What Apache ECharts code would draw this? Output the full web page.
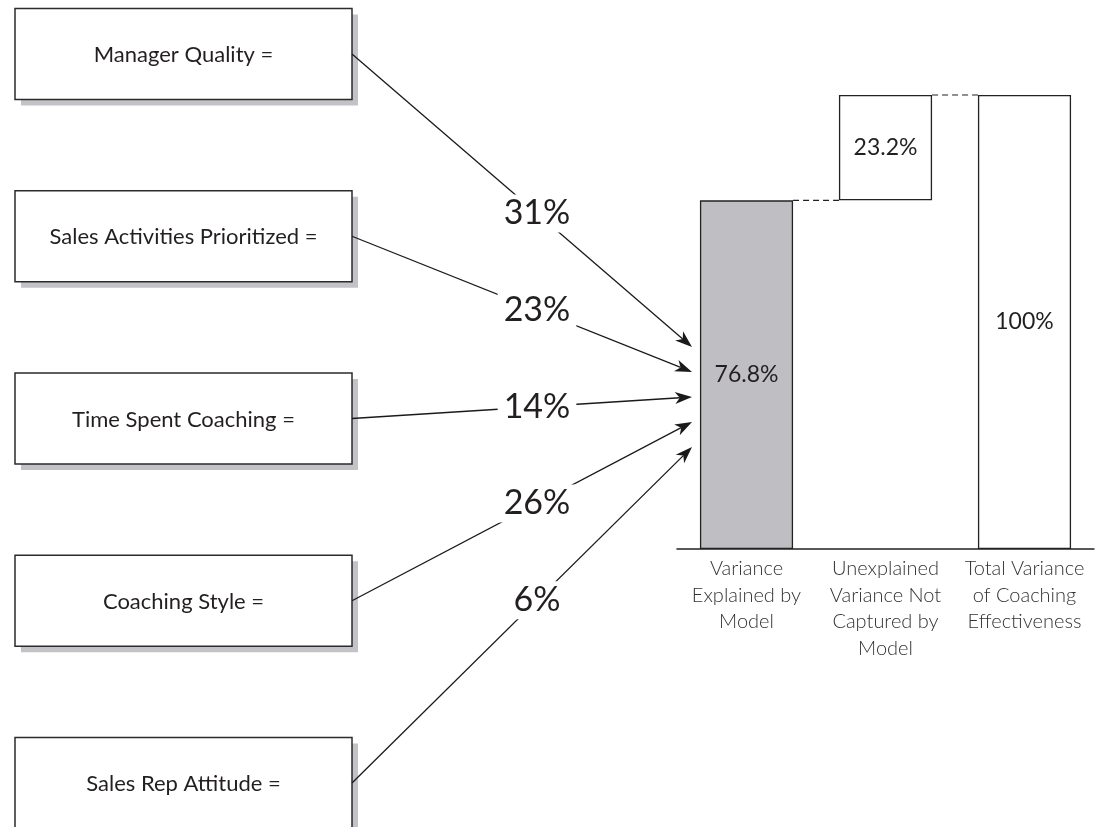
<!DOCTYPE html>
<html>
<head>
<meta charset="utf-8">
<script src="https://cdn.jsdelivr.net/npm/echarts@6/dist/echarts.min.js"></script>
<style>
  html, body { margin: 0; padding: 0; background: #fff; }
  #chart { width: 1104px; height: 827px; }
</style>
</head>
<body>
<div id="chart"></div>
<script>
// Drivers of coaching effectiveness and their relative weights (%)
const factors = [
  'Manager Quality =',
  'Sales Activities Prioritized =',
  'Time Spent Coaching =',
  'Coaching Style =',
  'Sales Rep Attitude ='
];
const factorWeights = [31, 23, 14, 26, 6];

// Variance decomposition (waterfall)
const varianceCategories = [
  'Variance\nExplained by\nModel',
  'Unexplained\nVariance Not\nCaptured by\nModel',
  'Total Variance\nof Coaching\nEffectiveness'
];
const varianceValues = [76.8, 23.2, 100];
const varianceBase = [0, 76.8, 0];

const FONT = 'Lato, "Open Sans", sans-serif';
const INK = '#231f20';
const PLOT_LEFT = 677;
const BAR_RATIO = 0.67;

const chart = echarts.init(document.getElementById('chart'), null, { renderer: 'canvas' });

// Box + arrow for each driver
function renderFactor(params, api) {
  const i = api.value(1);
  const weight = api.value(2);
  const p = api.coord([0, i]);
  const boxW = 337, boxH = 91;
  const x0 = p[0], yc = p[1];
  const start = [x0 + boxW, yc];
  const tip = [PLOT_LEFT + 15, 397 + (i - 2) * 25];
  const dx = tip[0] - start[0], dy = tip[1] - start[1];
  const len = Math.sqrt(dx * dx + dy * dy);
  const d = [dx / len, dy / len];
  const n = [-d[1], d[0]];
  const L = 17, W = 12;
  const back = [tip[0] - d[0] * L, tip[1] - d[1] * L];
  const notch = [tip[0] - d[0] * L * 0.72, tip[1] - d[1] * L * 0.72];
  const t = (537 - start[0]) / dx;
  const lab = [start[0] + dx * t, start[1] + dy * t];
  return {
    type: 'group',
    children: [
      { type: 'rect', shape: { x: x0 + 6, y: yc - boxH / 2 + 6, width: boxW, height: boxH },
        style: { fill: '#c3c3c7' } },
      { type: 'rect', shape: { x: x0, y: yc - boxH / 2, width: boxW, height: boxH },
        style: { fill: '#fff', stroke: '#2b2b2b', lineWidth: 1.5 } },
      { type: 'text', style: { text: factors[i], x: x0 + boxW / 2, y: yc + 1,
        textAlign: 'center', textVerticalAlign: 'middle', font: '22px ' + FONT, fill: INK } },
      { type: 'line', shape: { x1: start[0], y1: start[1], x2: notch[0], y2: notch[1] },
        style: { stroke: '#1a1a1a', lineWidth: 1.3 } },
      { type: 'polygon', shape: { points: [
          tip,
          [back[0] + n[0] * W / 2, back[1] + n[1] * W / 2],
          notch,
          [back[0] - n[0] * W / 2, back[1] - n[1] * W / 2]
        ] }, style: { fill: '#1a1a1a' } },
      { type: 'text', style: { text: weight + '%', x: lab[0], y: lab[1],
        textAlign: 'center', textVerticalAlign: 'middle', font: '34px ' + FONT, fill: INK,
        backgroundColor: '#fff', padding: [2, 6] } }
    ]
  };
}

// Dashed connectors between the waterfall steps
function renderConnector(params, api) {
  const i = api.value(0);
  const level = api.value(1);
  const p = api.coord([i, level]);
  const q = api.coord([i + 1, level]);
  const half = api.size([1, 0])[0] * BAR_RATIO / 2;
  return {
    type: 'line',
    shape: { x1: p[0] + half, y1: p[1], x2: q[0] - half, y2: q[1] },
    style: { stroke: '#222', lineWidth: 1.2, lineDash: [6, 4] }
  };
}

const connectorData = [0, 1].map(i => [i, varianceBase[i] + varianceValues[i]]);

chart.setOption({
  backgroundColor: '#fff',
  animation: false,
  grid: [
    { left: 15, top: 54, bottom: 44, width: 340 },
    { left: PLOT_LEFT, right: 10, top: 95, bottom: 278 }
  ],
  xAxis: [
    { gridIndex: 0, type: 'value', min: 0, max: 1, show: false },
    { gridIndex: 1, type: 'category', data: varianceCategories,
      axisLine: { lineStyle: { color: '#222', width: 1.5 } },
      axisTick: { show: false },
      axisLabel: { interval: 0, fontSize: 20, lineHeight: 26.7, color: '#333',
        fontFamily: FONT, fontWeight: 300, margin: 6, align: 'center' } }
  ],
  yAxis: [
    { gridIndex: 0, type: 'category', data: factors, inverse: true, boundaryGap: false, show: false },
    { gridIndex: 1, type: 'value', min: 0, max: 100, show: false, splitLine: { show: false } }
  ],
  series: [
    {
      type: 'custom', xAxisIndex: 0, yAxisIndex: 0, clip: false, silent: true,
      renderItem: renderFactor,
      encode: { x: 0, y: 1 },
      data: factorWeights.map((w, i) => [0, i, w])
    },
    {
      type: 'bar', xAxisIndex: 1, yAxisIndex: 1, stack: 'variance', silent: true,
      barWidth: (BAR_RATIO * 100) + '%',
      itemStyle: { color: 'transparent' },
      data: varianceBase
    },
    {
      type: 'bar', xAxisIndex: 1, yAxisIndex: 1, stack: 'variance', silent: true,
      barWidth: (BAR_RATIO * 100) + '%',
      itemStyle: { borderColor: '#222', borderWidth: 1.3 },
      label: { show: true, position: 'inside', formatter: p => p.value + '%',
        fontSize: 23, fontFamily: FONT, color: INK },
      data: varianceValues.map((v, i) => ({ value: v, itemStyle: { color: i === 0 ? '#bfbfc3' : '#fff' } }))
    },
    {
      type: 'custom', xAxisIndex: 1, yAxisIndex: 1, silent: true, z: 1,
      renderItem: renderConnector,
      encode: { x: 0, y: 1 },
      data: connectorData
    }
  ]
});
</script>
</body>
</html>
